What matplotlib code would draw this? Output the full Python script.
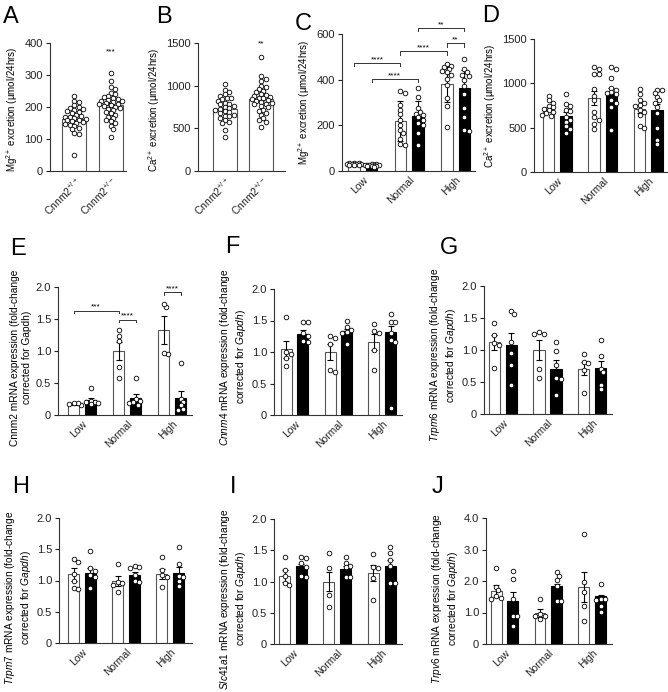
import numpy as np
import matplotlib
matplotlib.use("Agg")
import matplotlib.pyplot as plt

W, H = 668, 692

plt.rcParams.update({
    "font.family": ["Liberation Sans", "DejaVu Sans"],
    "mathtext.fontset": "custom",
    "mathtext.rm": "Liberation Sans",
    "mathtext.it": "Liberation Sans:italic",
    "mathtext.bf": "Liberation Sans:bold",
    "axes.linewidth": 0.8,
    "axes.edgecolor": "#333333",
    "xtick.color": "#222222",
    "ytick.color": "#222222",
})

# ---------------- data ----------------
ab_labels = [r"Cnnm2$^{+/+}$", r"Cnnm2$^{+/-}$"]
groups = ["Low", "Normal", "High"]

# A: Mg excretion, genotype only
a_means = [163, 206]
a_err = [7, 7]
a_pts = [
    [233, 218, 215, 205, 200, 198, 195, 192, 188, 185, 180, 175, 172, 170, 168,
     165, 163, 160, 158, 155, 152, 150, 148, 145, 140, 135, 130, 120, 115, 50],
    [307, 282, 262, 255, 245, 240, 235, 232, 228, 225, 222, 220, 218, 215, 212,
     210, 208, 205, 202, 200, 198, 195, 190, 185, 180, 175, 170, 165, 160, 155,
     150, 140, 130, 107],
]
# B: Ca excretion, genotype only
b_means = [730, 848]
b_err = [25, 32]
b_pts = [
    [1020, 950, 920, 900, 880, 860, 850, 840, 820, 800, 790, 780, 760, 750, 740,
     730, 720, 700, 690, 680, 660, 650, 640, 620, 600, 580, 560, 480, 400],
    [1340, 1110, 1080, 1050, 1000, 990, 960, 940, 920, 900, 890, 880, 870, 860,
     850, 840, 830, 820, 810, 800, 790, 780, 760, 750, 720, 700, 680, 660, 620,
     600, 580, 510],
]

# C: Mg excretion by diet (wt, het per diet)
c_means = [30, 25, 218, 240, 382, 362]
c_err = [5, 5, 87, 68, 80, 82]
c_pts = [
    [36, 34, 33, 32, 31, 30, 29, 28, 27, 26],
    [30, 29, 28, 27, 26, 25, 25, 24, 23, 21, 19],
    [350, 340, 290, 268, 248, 225, 200, 180, 165, 140, 120, 115],
    [365, 322, 275, 260, 250, 245, 235, 225, 210, 200, 165, 112],
    [470, 462, 455, 447, 440, 432, 420, 405, 375, 320, 285, 193],
    [490, 447, 432, 420, 415, 400, 374, 337, 276, 236, 181, 177],
]

# D: Ca excretion by diet
d_means = [716, 630, 835, 890, 716, 700]
d_err = [22, 45, 75, 60, 45, 65]
d_pts = [
    [855, 810, 780, 745, 730, 715, 700, 680, 660, 645, 630],
    [885, 770, 740, 700, 690, 615, 585, 560, 515, 480, 435],
    [1180, 1165, 1110, 1100, 940, 860, 810, 680, 620, 585, 545, 490],
    [1180, 1160, 1060, 945, 925, 900, 890, 880, 810, 775, 735, 470],
    [940, 885, 810, 780, 760, 740, 700, 680, 640, 520, 500],
    [930, 920, 890, 850, 810, 775, 730, 660, 500, 365, 320],
]

# E-J: mRNA expression
e_means = [0.17, 0.23, 1.0, 0.27, 1.33, 0.27]
e_err = [0.01, 0.04, 0.14, 0.06, 0.22, 0.11]
e_pts = [
    [0.15, 0.17, 0.18, 0.19],
    [0.42, 0.22, 0.2, 0.18, 0.17, 0.2],
    [1.33, 1.23, 1.15, 0.75, 0.58],
    [0.58, 0.25, 0.22, 0.2, 0.18, 0.16],
    [1.68, 1.73, 0.96, 0.97],
    [0.82, 0.25, 0.2, 0.15, 0.1, 0.08],
]
f_means = [1.04, 1.29, 1.0, 1.34, 1.16, 1.31]
f_err = [0.13, 0.06, 0.12, 0.03, 0.13, 0.11]
f_pts = [
    [1.55, 1.0, 0.97, 0.9, 0.78],
    [1.48, 1.48, 1.3, 1.25, 1.17, 1.16],
    [1.26, 1.23, 1.12, 0.71, 0.69],
    [1.5, 1.4, 1.35, 1.32, 1.3, 1.13],
    [1.44, 1.33, 1.3, 1.03, 0.72],
    [1.61, 1.48, 1.48, 1.3, 1.19, 1.16, 0.11],
]
g_means = [1.12, 1.08, 1.0, 0.71, 0.71, 0.72]
g_err = [0.12, 0.18, 0.15, 0.13, 0.1, 0.11]
g_pts = [
    [1.42, 1.23, 1.11, 1.08, 0.72],
    [1.61, 1.56, 1.12, 0.96, 0.77, 0.45],
    [1.28, 1.25, 1.25, 0.71, 0.57],
    [1.12, 0.99, 0.77, 0.56, 0.55, 0.30],
    [0.94, 0.81, 0.79, 0.69, 0.33],
    [1.15, 0.91, 0.71, 0.66, 0.46, 0.39],
]
h_means = [1.10, 1.12, 1.0, 1.09, 1.10, 1.12]
h_err = [0.1, 0.08, 0.08, 0.05, 0.08, 0.1]
h_pts = [
    [1.34, 1.30, 1.10, 1.0, 0.88, 0.86],
    [1.47, 1.2, 1.16, 1.09, 1.06, 0.88],
    [1.27, 0.98, 0.96, 0.93, 0.81],
    [1.24, 1.21, 1.2, 1.09, 1.0, 0.98],
    [1.37, 1.17, 1.09, 1.06, 0.9],
    [1.53, 1.27, 1.07, 1.05, 1.0, 0.91],
]
i_means = [1.09, 1.25, 1.0, 1.2, 1.14, 1.25]
i_err = [0.1, 0.03, 0.15, 0.05, 0.13, 0.1]
i_pts = [
    [1.39, 1.18, 1.09, 0.97, 0.95],
    [1.40, 1.37, 1.29, 1.24, 1.08, 1.09],
    [1.46, 1.22, 0.79, 0.6],
    [1.39, 1.30, 1.25, 1.23, 1.08, 1.07],
    [1.44, 1.24, 1.22, 1.06, 0.71],
    [1.55, 1.45, 1.35, 1.25, 0.98, 0.98],
]
j_means = [1.69, 1.35, 0.98, 1.83, 1.80, 1.51]
j_err = [0.19, 0.3, 0.13, 0.08, 0.48, 0.04]
j_pts = [
    [2.41, 1.81, 1.70, 1.51, 1.46, 1.43],
    [2.31, 2.07, 1.43, 0.88, 0.88, 0.56],
    [1.44, 0.96, 0.90, 0.88, 0.79],
    [2.28, 2.17, 2.02, 1.85, 1.35, 1.35],
    [3.49, 1.96, 1.64, 1.2, 0.72],
    [1.92, 1.44, 1.43, 1.41, 1.2, 1.02],
]

# ---------------- helpers ----------------
fig = plt.figure(figsize=(W / 100, H / 100), dpi=100)


def add_ax(l, t, r, b):
    # pixel box -> figure fraction
    return fig.add_axes([l / W, 1 - b / H, (r - l) / W, (b - t) / H])


def swarm(ax, xc, vals, maxw, diam=4.6):
    # simple beeswarm in pixel space, kept within +-maxw pixels
    vals = np.asarray(vals, float)
    pix = ax.transData.transform(np.column_stack([np.full(len(vals), xc), vals]))
    order = np.argsort(-vals)
    placed = []
    xs = np.zeros(len(vals))
    step = diam * 0.5
    cands = [0.0]
    k = 1
    while k * step <= maxw:
        cands += [k * step, -k * step]
        k += 1
    mind = diam * 0.85
    for i in order:
        x0, y0 = pix[i]
        best, best_d = 0.0, -1
        for dx in cands:
            d = min([np.hypot(x0 + dx - px, y0 - py) for px, py in placed] or [99])
            if d >= mind:
                best = dx
                break
            if d > best_d:
                best, best_d = dx, d
        placed.append((x0 + best, y0))
        xs[i] = x0 + best
    data = ax.transData.inverted().transform(np.column_stack([xs, pix[:, 1]]))
    ax.scatter(data[:, 0], vals, s=11, facecolor="white", edgecolor="black",
               linewidth=0.6, zorder=4, clip_on=False)


def style(ax, yticks, ylabels, ylabel, fs_lab, label_y):
    ax.spines["top"].set_visible(False)
    ax.spines["right"].set_visible(False)
    ax.set_yticks(yticks)
    ax.set_yticklabels(ylabels, fontsize=8)
    ax.tick_params(axis="y", length=3, width=0.8, pad=2)
    ax.tick_params(axis="x", length=0, pad=3)
    ax.set_ylabel(ylabel, fontsize=fs_lab, multialignment="center", labelpad=3)
    ax.yaxis.label.set_y(label_y)


def bracket(ax, x1, x2, y, h, txt):
    ax.plot([x1, x1, x2, x2], [y - h, y, y, y - h], color="#333333", lw=0.7, clip_on=False)
    ax.text((x1 + x2) / 2, y, txt, ha="center", va="bottom", fontsize=6, clip_on=False)


def pair_panel(ax, means, errs, pts, xlim, ymax, yticks, ylabel, star, star_y):
    x = np.arange(2)
    ax.set_xlim(*xlim)
    ax.set_ylim(0, ymax)
    ax.bar(x, means, width=0.66, color="white", edgecolor="#555555", linewidth=0.8, zorder=2)
    ax.errorbar(x, means, yerr=errs, fmt="none", ecolor="black", elinewidth=0.8,
                capsize=2.5, capthick=0.8, zorder=3)
    for xi, v in zip(x, pts):
        swarm(ax, xi, v, maxw=14)
    style(ax, yticks, [str(t) for t in yticks], ylabel, 7, 0.48)
    ax.set_xticks(x)
    ax.set_xticklabels(ab_labels, rotation=45, ha="right", rotation_mode="anchor", fontsize=7.5)
    ax.text(1, star_y, star, ha="center", va="center", fontsize=6, clip_on=False)


def grouped_panel(ax, means, errs, pts, xlim, ymax, yticks, yticklabels, ylabel,
                  fs_lab=7.3, label_y=0.5):
    x = []
    for g in range(3):
        x += [g - 0.19, g + 0.19]
    ax.set_xlim(*xlim)
    ax.set_ylim(0, ymax)
    ax.bar(x, means, width=0.25, color=["white", "black"] * 3,
           edgecolor=["#555555", "black"] * 3, linewidth=0.8, zorder=2)
    ax.errorbar(x, means, yerr=errs, fmt="none", ecolor="black", elinewidth=0.8,
                capsize=2.2, capthick=0.8, zorder=3)
    for xi, v in zip(x, pts):
        swarm(ax, xi, v, maxw=7)
    style(ax, yticks, yticklabels, ylabel, fs_lab, label_y)
    ax.set_xticks([0, 1, 2])
    ax.set_xticklabels(groups, rotation=45, ha="right", rotation_mode="anchor", fontsize=7.5)
    return x


# ---------------- row 1 ----------------
mg_lab = r"Mg$^{2+}$ excretion (µmol/24hrs)"
ca_lab = r"Ca$^{2+}$ excretion (µmol/24hrs)"

axA = add_ax(50, 43, 126, 171)
pair_panel(axA, a_means, a_err, a_pts, (-0.66, 1.42), 400, [0, 100, 200, 300, 400],
           mg_lab, "***", 372)

axB = add_ax(198, 43, 285, 171)
pair_panel(axB, b_means, b_err, b_pts, (-0.73, 1.66), 1500, [0, 500, 1000, 1500],
           ca_lab, "**", 1490)

axC = add_ax(342, 34, 475, 171)
xc = grouped_panel(axC, c_means, c_err, c_pts, (-0.45, 2.42), 600, [0, 200, 400, 600],
                   ["0", "200", "400", "600"], mg_lab, 7)
bracket(axC, xc[0], xc[2], 473, 15, "****")
bracket(axC, xc[1], xc[3], 403, 15, "****")
bracket(axC, xc[2], xc[4], 524, 15, "****")
bracket(axC, xc[3], xc[5], 626, 15, "**")
bracket(axC, xc[4], xc[5], 560, 15, "**")

axD = add_ax(534, 39, 667, 172)
grouped_panel(axD, d_means, d_err, d_pts, (-0.51, 2.41), 1500, [0, 500, 1000, 1500],
              ["0", "500", "1000", "1500"], ca_lab, 7)

# ---------------- rows 2-3 ----------------
t2 = [0, 0.5, 1.0, 1.5, 2.0]
t2l = ["0", "0.5", "1.0", "1.5", "2.0"]


def mrna_label(gene, italic=True):
    if italic:
        return r"$\mathit{" + gene + r"}$ mRNA expression (fold-change" + "\n" + r"corrected for $\mathit{Gapdh}$)"
    return gene + " mRNA expression (fold-change\ncorrected for Gapdh)"


axE = add_ax(58, 287, 192, 415)
xe = grouped_panel(axE, e_means, e_err, e_pts, (-0.54, 2.44), 2.0, t2, t2l,
                   mrna_label("Cnnm2", italic=False), label_y=0.45)
bracket(axE, xe[0], xe[2], 1.63, 0.04, "***")
bracket(axE, xe[2], xe[3], 1.49, 0.04, "****")
bracket(axE, xe[4], xe[5], 1.92, 0.04, "****")

axF = add_ax(274, 289, 402, 415)
grouped_panel(axF, f_means, f_err, f_pts, (-0.47, 2.45), 2.0, t2, t2l, mrna_label("Cnnm4"),
              label_y=0.46)

axG = add_ax(484, 286, 612, 414)
grouped_panel(axG, g_means, g_err, g_pts, (-0.42, 2.44), 2.0, t2, t2l, mrna_label("Trpm6"),
              label_y=0.46)

axH = add_ax(59, 518, 192, 643)
grouped_panel(axH, h_means, h_err, h_pts, (-0.52, 2.49), 2.0, t2, t2l, mrna_label("Trpm7"),
              label_y=0.36)

axI = add_ax(274, 519, 402, 644)
grouped_panel(axI, i_means, i_err, i_pts, (-0.43, 2.46), 2.0, t2, t2l, mrna_label("Slc41a1"),
              label_y=0.36)

axJ = add_ax(486, 518, 612, 644)
grouped_panel(axJ, j_means, j_err, j_pts, (-0.42, 2.45), 4.0, [0, 1, 2, 3, 4],
              ["0", "1.0", "2.0", "3.0", "4.0"], mrna_label("Trpv6"), label_y=0.36)

# ---------------- panel letters ----------------
letters = [("A", 3, 23), ("B", 156, 23), ("C", 295, 30), ("D", 482, 22),
           ("E", 10, 255), ("F", 225, 253), ("G", 440, 254),
           ("H", 12, 493), ("I", 230, 493), ("J", 432, 493)]
for s, x, y in letters:
    fig.text(x / W, 1 - y / H, s, fontsize=17, ha="left", va="baseline")

plt.savefig("out.png", dpi=100)
